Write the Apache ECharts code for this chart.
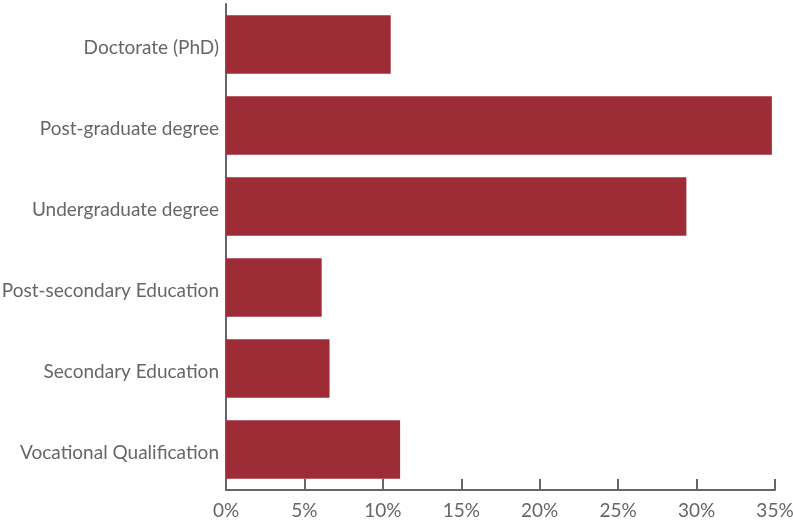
<!DOCTYPE html>
<html>
<head>
<meta charset="utf-8">
<script src="https://cdn.jsdelivr.net/npm/echarts@6/dist/echarts.min.js"></script>
<style>
  html, body { margin: 0; padding: 0; background: #fff; }
  #chart { width: 793px; height: 523px; }
</style>
</head>
<body>
<div id="chart"></div>
<script>
// categories listed bottom to top (category axis starts at the bottom)
var categories = ['Vocational Qualification', 'Secondary Education', 'Post-secondary Education',
    'Undergraduate degree', 'Post-graduate degree', 'Doctorate (PhD)'];
var shares = [11.1, 6.6, 6.1, 29.35, 34.8, 10.5];
var ticks = [0, 5, 10, 15, 20, 25, 30, 35];

var chart = echarts.init(document.getElementById('chart'));
var option = {
    animation: false,
    grid: { left: 226, right: 18, top: 4, bottom: 33, outerBoundsMode: 'none' },
    xAxis: {
        type: 'value',
        min: ticks[0],
        max: ticks[ticks.length - 1],
        interval: 5,
        axisLine: { show: true, lineStyle: { color: '#666', width: 2 } },
        axisTick: { show: true, inside: true, length: 11, lineStyle: { color: '#666', width: 2 } },
        splitLine: { show: false },
        axisLabel: {
            color: '#666', fontFamily: 'Lato', fontSize: 19, margin: 11,
            formatter: function (v) { return v + '%'; }
        }
    },
    yAxis: {
        type: 'category',
        data: categories,
        axisLine: { show: true, lineStyle: { color: '#666', width: 2 } },
        axisTick: { show: false },
        axisLabel: {
            color: '#666', fontFamily: 'Lato', fontSize: 19, margin: 7,
            verticalAlign: 'top', lineHeight: 7
        }
    },
    series: [{
        type: 'bar',
        data: shares,
        barCategoryGap: '28%',
        itemStyle: { color: '#9e2c36' }
    }]
};
chart.setOption(option);
</script>
</body>
</html>
